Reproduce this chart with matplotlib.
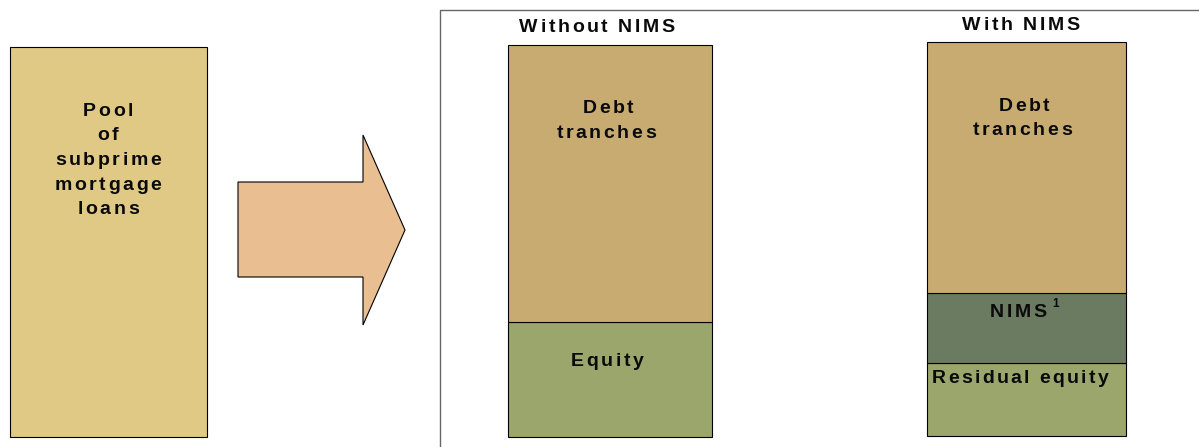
import matplotlib.pyplot as plt
from matplotlib.patches import Polygon
from matplotlib import font_manager

# 値（ピクセル単位の高さ）
pool_lines = ['Pool', 'of', 'subprime', 'mortgage', 'loans']
pool_height = [390]

bar_titles = ['Without NIMS', 'With NIMS']
without_labels = [['Debt', 'tranches'], ['Equity']]
without_heights = [277, 115]
with_labels = [['Debt', 'tranches'], ['NIMS'], ['Residual equity']]
with_heights = [251, 70, 73]
footnote = '1'

# 色
c_pool = '#DFC985'
c_arrow = '#E9BE91'
c_debt = '#C8AB70'
c_equity = '#9BA66D'
c_nims = '#6B7B62'
c_text = '#0A0A0A'

W, H = 1199, 447
DPI = 100
FS = 14
TRACK = 2.6   # 文字間隔(px)

fig = plt.figure(figsize=(W / DPI, H / DPI), dpi=DPI)
ax = fig.add_axes([0, 0, 1, 1])
ax.set_xlim(0, W)
ax.set_ylim(H, 0)
ax.axis('off')

fp = font_manager.FontProperties(family='Liberation Sans', weight='bold')
ft = font_manager.get_font(font_manager.findfont(fp))


def advances(s, size):
    ft.set_size(size, DPI)
    out = []
    for ch in s:
        g = ft.load_char(ord(ch))
        out.append(g.linearHoriAdvance / 65536)
    return out


def spaced_text(x, y, s, ha='center', size=FS, track=TRACK):
    # 文字間隔を広げて1文字ずつ描く（x,yはピクセル、yはベースライン）
    adv = advances(s, size)
    total = sum(adv) + track * (len(s) - 1)
    if ha == 'center':
        x0 = x - total / 2
    elif ha == 'right':
        x0 = x - total
    else:
        x0 = x
    for ch, a in zip(s, adv):
        if ch != ' ':
            ax.text(x0, y, ch, ha='left', va='baseline', fontsize=size,
                    fontproperties=fp, color=c_text)
        x0 += a + track
    return x0


def stacked_bar(xc, width, base, heights, colors):
    bottom = base
    tops = []
    for h, c in zip(heights[::-1], colors[::-1]):
        ax.bar(xc, h, width=width, bottom=bottom - h, color=c,
               edgecolor='black', linewidth=0.8)
        bottom -= h
        tops.append(bottom)
    return tops[::-1]


# プール
stacked_bar(108.5, 197, 437, pool_height, [c_pool])
for i, line in enumerate(pool_lines):
    spaced_text(108, 116 + 24.5 * i, line)

# 矢印
arrow_pts = [(238, 182), (363, 182), (363, 135), (405, 230),
             (363, 325), (363, 277), (238, 277)]
ax.add_patch(Polygon(arrow_pts, closed=True, facecolor=c_arrow,
                     edgecolor='black', linewidth=0.8))

# 右側の枠
ax.plot([440, 440, W], [H, 10, 10], color='#666666', linewidth=1.0)

# Without NIMS
stacked_bar(610, 204, 437, without_heights, [c_debt, c_equity])
spaced_text(597, 32, bar_titles[0])
spaced_text(608, 113, without_labels[0][0])
spaced_text(606, 138, without_labels[0][1])
spaced_text(607, 366, without_labels[1][0])

# With NIMS
stacked_bar(1026.5, 199, 436, with_heights, [c_debt, c_nims, c_equity])
spaced_text(1021, 30, bar_titles[1])
spaced_text(1024, 111, with_labels[0][0])
spaced_text(1022, 135, with_labels[0][1])
xe = spaced_text(1018, 317, with_labels[1][0])
spaced_text(xe + 3, 307, footnote, ha='left', size=8.5)
spaced_text(932, 383, with_labels[2][0], ha='left', track=2.3)

plt.savefig('out.png', dpi=DPI)
plt.close()
